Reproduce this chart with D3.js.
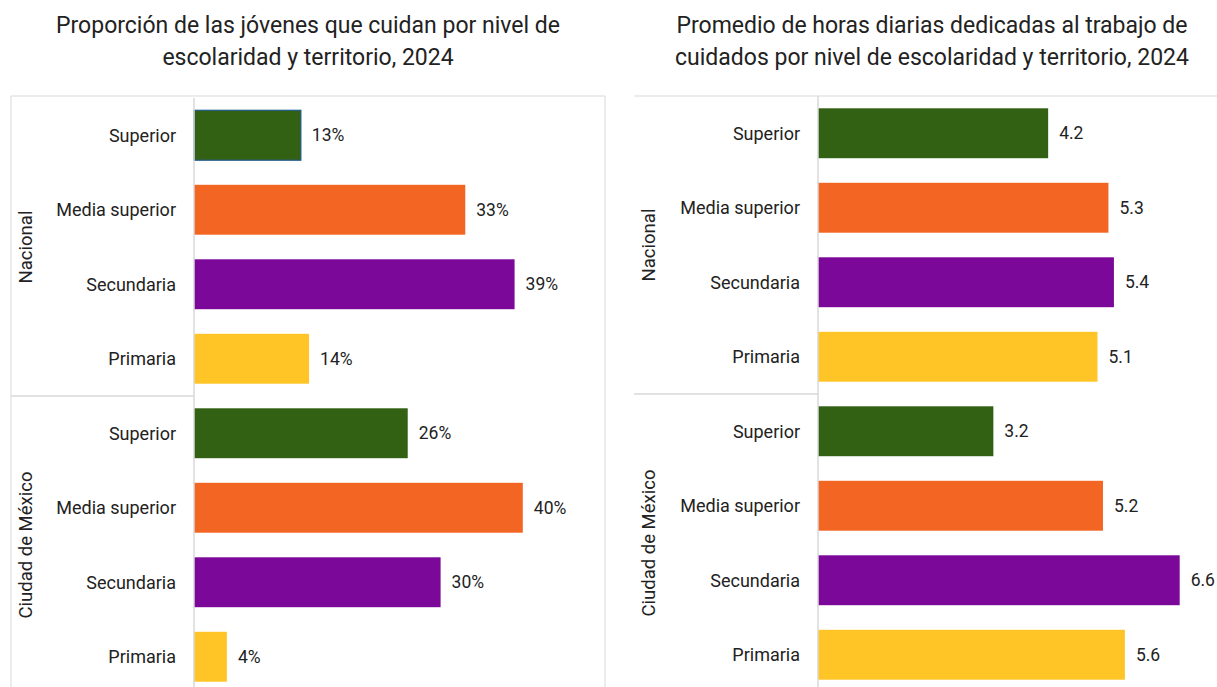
<!DOCTYPE html>
<html><head><meta charset="utf-8">
<script src="https://cdn.jsdelivr.net/npm/d3@7"></script>
<style>
html,body{margin:0;padding:0;background:#fff;}
svg{display:block;font-family:Roboto,"Noto Sans",sans-serif;}
</style></head>
<body>
<svg id="chart" width="1217" height="687"></svg>
<script>
const categories = ["Superior", "Media superior", "Secundaria", "Primaria"];
const groups = ["Nacional", "Ciudad de México"];
const colors = ["#336114", "#F26522", "#7B0899", "#FFC425"];
const propNacional = [13, 33, 39, 14];
const propCDMX = [26, 40, 30, 4];
const hoursNacional = [4.2, 5.3, 5.4, 5.1];
const hoursCDMX = [3.2, 5.2, 6.6, 5.6];
const titleLeft = ["Proporción de las jóvenes que cuidan por nivel de", "escolaridad y territorio, 2024"];
const titleRight = ["Promedio de horas diarias dedicadas al trabajo de", "cuidados por nivel de escolaridad y territorio, 2024"];

const svg = d3.select("#chart");
const gridColor = "#d9d9d9";
const textColor = "#222";

function panel(opts) {
  const rows = [];
  groups.forEach((g, gi) => {
    const vals = gi === 0 ? opts.vals[0] : opts.vals[1];
    categories.forEach((c, ci) => rows.push({key: g + "|" + c, group: g, cat: c, v: vals[ci], color: colors[ci], gi, ci}));
  });
  const y = d3.scaleBand().domain(rows.map(r => r.key)).range([opts.top, opts.bottom]).paddingInner(0.33).paddingOuter(0.165);
  const x = d3.scaleLinear().domain(opts.domain).range([opts.axisX, opts.rightX]);
  const g = svg.append("g");

  // title
  g.append("text").attr("x", opts.titleX).attr("y", 33).attr("text-anchor", "middle")
    .attr("font-size", 23).attr("fill", textColor)
    .selectAll("tspan").data(opts.title).join("tspan")
    .attr("x", opts.titleX).attr("dy", (d, i) => i === 0 ? 0 : 32).text(d => d);

  // frame lines
  g.append("line").attr("x1", opts.frameLeft).attr("x2", opts.frameRight).attr("y1", opts.frameTop).attr("y2", opts.frameTop).attr("stroke", gridColor);
  if (opts.drawLeftBorder) {
    g.append("line").attr("x1", opts.frameLeft).attr("x2", opts.frameLeft).attr("y1", opts.frameTop).attr("y2", 700).attr("stroke", gridColor);
  }
  if (opts.drawRightBorder) {
    g.append("line").attr("x1", opts.frameRight).attr("x2", opts.frameRight).attr("y1", opts.frameTop).attr("y2", 700).attr("stroke", gridColor);
  }
  // group separator
  const sepY = (y(groups[0] + "|" + categories[3]) + y.bandwidth() + y(groups[1] + "|" + categories[0])) / 2;
  g.append("line").attr("x1", opts.frameLeft).attr("x2", opts.axisX).attr("y1", sepY).attr("y2", sepY).attr("stroke", gridColor).attr("stroke-width", 1.5);

  // bars
  g.selectAll("rect.bar").data(rows).join("rect").attr("class", "bar")
    .attr("x", x(0)).attr("y", d => y(d.key))
    .attr("width", d => x(d.v) - x(0)).attr("height", y.bandwidth())
    .attr("fill", d => d.color)
    .attr("stroke", (d, i) => (opts.highlightFirst && i === 0) ? "#1F5A8A" : "none")
    .attr("stroke-width", 1.2);

  // axis line
  const yAxis = d3.axisLeft(y).tickSize(0).tickFormat(k => k.split("|")[1]);
  const ax = g.append("g").attr("transform", `translate(${opts.axisX},0)`).call(yAxis);
  ax.select(".domain").attr("stroke", gridColor).attr("stroke-width", 1.5).attr("d", `M0,${opts.frameTop + opts.axisTopOffset}V700`);
  ax.selectAll("text").attr("font-size", 18).attr("fill", textColor).attr("font-family", "Roboto").attr("dx", -18).attr("dy", "0.35em").attr("x", 0);

  // value labels
  g.selectAll("text.val").data(rows).join("text").attr("class", "val")
    .attr("x", d => x(d.v) + 11).attr("y", d => y(d.key) + y.bandwidth() / 2)
    .attr("dy", "0.35em").attr("font-size", 17.5).attr("fill", textColor)
    .text(d => opts.fmt(d.v));

  // group labels
  groups.forEach((grp, gi) => {
    const first = y(grp + "|" + categories[0]) - y.step() * y.paddingInner() / 2;
    const last = y(grp + "|" + categories[3]) + y.bandwidth() + y.step() * y.paddingInner() / 2;
    const cy = (first + last) / 2;
    g.append("text").attr("transform", `translate(${opts.groupX},${cy}) rotate(-90)`)
      .attr("text-anchor", "middle").attr("dy", "0.35em").attr("font-size", 18.5).attr("fill", textColor).text(grp);
  });
}

panel({
  vals: [propNacional, propCDMX], domain: [0, 50], axisX: 194, rightX: 605,
  top: 98, bottom: 694, title: titleLeft, titleX: 308,
  frameLeft: 11, frameRight: 605, frameTop: 96, drawLeftBorder: true, drawRightBorder: true,
  axisTopOffset: 2, groupX: 26, highlightFirst: true, fmt: v => v + "%"
});
panel({
  vals: [hoursNacional, hoursCDMX], domain: [0, 7.5], axisX: 818, rightX: 1229,
  top: 96, bottom: 692, title: titleRight, titleX: 932,
  frameLeft: 634, frameRight: 1230, frameTop: 96, drawLeftBorder: false, drawRightBorder: false,
  axisTopOffset: 0, groupX: 649, highlightFirst: false, fmt: v => d3.format(".1f")(v)
});
</script>
</body></html>
